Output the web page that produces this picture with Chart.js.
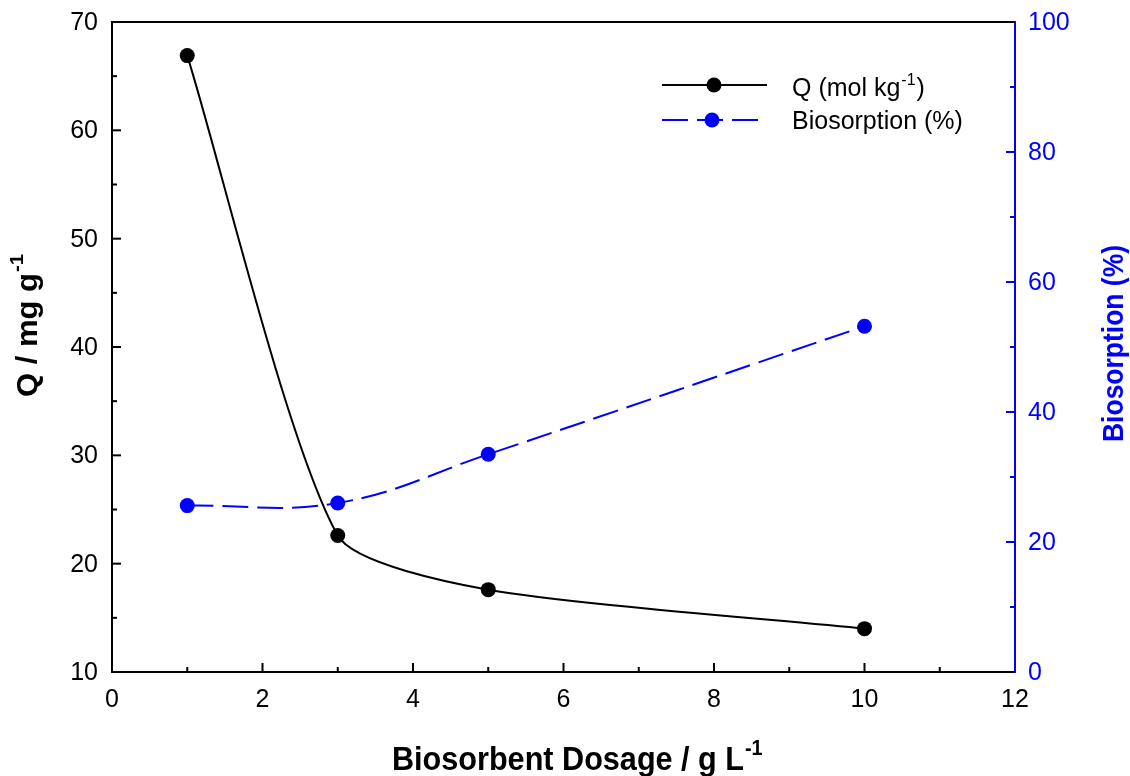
<!DOCTYPE html>
<html>
<head>
<meta charset="utf-8">
<script src="https://cdn.jsdelivr.net/npm/chart.js@4.4.1/dist/chart.umd.min.js"></script>
<style>
  html, body { margin: 0; padding: 0; background: #fff; }
  #grafico { display: block; }
</style>
</head>
<body>
<canvas id="grafico" width="1130" height="776"></canvas>
<script>
// dados
const dosage = [1, 3, 5, 10];
const qValues = [66.9, 22.6, 17.6, 14.0];
const biosorption = [25.6, 26.0, 33.5, 53.2];

const xTicks = [0, 2, 4, 6, 8, 10, 12];
const qTicks = [10, 20, 30, 40, 50, 60, 70];
const bioTicks = [0, 20, 40, 60, 80, 100];

const BLUE = '#0000ff';
const FONT = '"Liberation Sans", Arial, sans-serif';

// texto com sobrescrito (ex.: g L-1)
function textSup(ctx, main, sup, font, supFont, color, raise) {
    ctx.fillStyle = color;
    ctx.font = font;
    ctx.textAlign = 'left';
    ctx.textBaseline = 'alphabetic';
    ctx.fillText(main, 0, 0);
    const w = ctx.measureText(main).width;
    ctx.font = supFont;
    ctx.fillText(sup, w + 1, -raise);
    return w + 1 + ctx.measureText(sup).width;
}

const decorPlugin = {
    id: 'decor',
    afterDraw(chart) {
        const ctx = chart.ctx;
        const area = chart.chartArea;
        const sx = chart.scales.x, sy = chart.scales.y, sy1 = chart.scales.y1;
        ctx.save();

        // moldura superior
        ctx.strokeStyle = '#000';
        ctx.lineWidth = 2;
        ctx.beginPath();
        ctx.moveTo(area.left - 1, area.top);
        ctx.lineTo(area.right, area.top);
        ctx.stroke();

        // marcas para dentro (maiores e menores)
        const tick = (x1, y1, x2, y2, color) => {
            ctx.strokeStyle = color;
            ctx.lineWidth = 2;
            ctx.beginPath();
            ctx.moveTo(x1, y1);
            ctx.lineTo(x2, y2);
            ctx.stroke();
        };
        for (let v = 1; v < 12; v++) {
            const px = sx.getPixelForValue(v);
            tick(px, area.bottom, px, area.bottom - (v % 2 === 0 ? 9 : 5), '#000');
        }
        for (let v = 15; v < 70; v += 5) {
            const py = sy.getPixelForValue(v);
            tick(area.left, py, area.left + (v % 10 === 0 ? 9 : 5), py, '#000');
        }
        for (let v = 10; v < 100; v += 10) {
            const py = sy1.getPixelForValue(v);
            tick(area.right, py, area.right - (v % 20 === 0 ? 9 : 5), py, BLUE);
        }

        // rótulos dos eixos
        ctx.font = '25px ' + FONT;
        ctx.textBaseline = 'middle';
        ctx.fillStyle = '#000';
        ctx.textAlign = 'center';
        xTicks.forEach(v => ctx.fillText(String(v), sx.getPixelForValue(v), 700));
        ctx.textAlign = 'right';
        qTicks.forEach(v => ctx.fillText(String(v), 98, sy.getPixelForValue(v) + 1));
        ctx.textAlign = 'left';
        ctx.fillStyle = BLUE;
        bioTicks.forEach(v => ctx.fillText(String(v), 1028, sy1.getPixelForValue(v) + 1));

        // título do eixo x
        ctx.save();
        ctx.translate(392, 770);
        ctx.font = 'bold 34px ' + FONT;
        const wx = ctx.measureText('Biosorbent Dosage / g L').width;
        ctx.scale(352 / wx, 1);
        textSup(ctx, 'Biosorbent Dosage / g L', '-1', 'bold 34px ' + FONT, 'bold 22px ' + FONT, '#000', 15);
        ctx.restore();

        // título do eixo y esquerdo
        ctx.save();
        ctx.translate(37, 397);
        ctx.rotate(-Math.PI / 2);
        ctx.font = 'bold 29px ' + FONT;
        const wl = ctx.measureText('Q / mg g').width;
        ctx.scale(124 / wl, 1);
        textSup(ctx, 'Q / mg g', '-1', 'bold 29px ' + FONT, 'bold 19px ' + FONT, '#000', 14);
        ctx.restore();

        // título do eixo y direito
        ctx.save();
        ctx.translate(1123, 442);
        ctx.rotate(-Math.PI / 2);
        ctx.font = 'bold 29px ' + FONT;
        const wr = ctx.measureText('Biosorption (%)').width;
        ctx.scale(197 / wr, 1);
        ctx.fillStyle = BLUE;
        ctx.textAlign = 'left';
        ctx.textBaseline = 'alphabetic';
        ctx.fillText('Biosorption (%)', 0, 0);
        ctx.restore();

        // legenda
        ctx.strokeStyle = '#000';
        ctx.lineWidth = 2;
        ctx.setLineDash([]);
        ctx.beginPath();
        ctx.moveTo(662, 85);
        ctx.lineTo(767, 85);
        ctx.stroke();
        ctx.fillStyle = '#000';
        ctx.beginPath();
        ctx.arc(714, 85, 7.5, 0, Math.PI * 2);
        ctx.fill();

        ctx.strokeStyle = BLUE;
        ctx.setLineDash([26, 9]);
        ctx.beginPath();
        ctx.moveTo(662, 120);
        ctx.lineTo(767, 120);
        ctx.stroke();
        ctx.setLineDash([]);
        ctx.fillStyle = BLUE;
        ctx.beginPath();
        ctx.arc(712, 120, 7.5, 0, Math.PI * 2);
        ctx.fill();

        ctx.save();
        ctx.translate(792, 96);
        const wq = textSup(ctx, 'Q (mol kg', '-1', '25px ' + FONT, '16px ' + FONT, '#000', 11);
        ctx.font = '25px ' + FONT;
        ctx.fillText(')', wq + 1, 0);
        ctx.restore();

        ctx.font = '25px ' + FONT;
        ctx.fillStyle = '#000';
        ctx.textAlign = 'left';
        ctx.textBaseline = 'alphabetic';
        ctx.fillText('Biosorption (%)', 792, 129);

        ctx.restore();
    }
};

const ctx = document.getElementById('grafico').getContext('2d');

const grafico = new Chart(ctx, {
    type: 'line',
    data: {
        datasets: [{
            label: 'Q (mol kg-1)',
            data: dosage.map((x, i) => ({ x: x, y: qValues[i] })),
            yAxisID: 'y',
            borderColor: '#000',
            backgroundColor: '#000',
            borderWidth: 2,
            pointRadius: 7.5,
            pointHoverRadius: 7.5,
            pointBorderWidth: 0,
            tension: 0.22
        }, {
            label: 'Biosorption (%)',
            data: dosage.map((x, i) => ({ x: x, y: biosorption[i] })),
            yAxisID: 'y1',
            borderColor: BLUE,
            backgroundColor: BLUE,
            borderWidth: 2,
            borderDash: [26, 9],
            pointRadius: 7.5,
            pointHoverRadius: 7.5,
            pointBorderWidth: 0,
            tension: 0.4
        }]
    },
    options: {
        responsive: false,
        animation: false,
        devicePixelRatio: 1,
        layout: { padding: { top: 22, left: 0, right: 0, bottom: 0 } },
        plugins: {
            legend: { display: false },
            tooltip: { enabled: false }
        },
        scales: {
            x: {
                type: 'linear',
                min: 0,
                max: 12,
                ticks: { display: false, stepSize: 2 },
                grid: { display: false },
                border: { color: '#000', width: 2 },
                afterFit: s => { s.height = 104; }
            },
            y: {
                position: 'left',
                min: 10,
                max: 70,
                ticks: { display: false, stepSize: 10 },
                grid: { display: false },
                border: { color: '#000', width: 2 },
                afterFit: s => { s.width = 112; }
            },
            y1: {
                position: 'right',
                min: 0,
                max: 100,
                ticks: { display: false, stepSize: 20 },
                grid: { display: false },
                border: { color: BLUE, width: 2 },
                afterFit: s => { s.width = 115; }
            }
        }
    },
    plugins: [decorPlugin]
});
</script>
</body>
</html>
